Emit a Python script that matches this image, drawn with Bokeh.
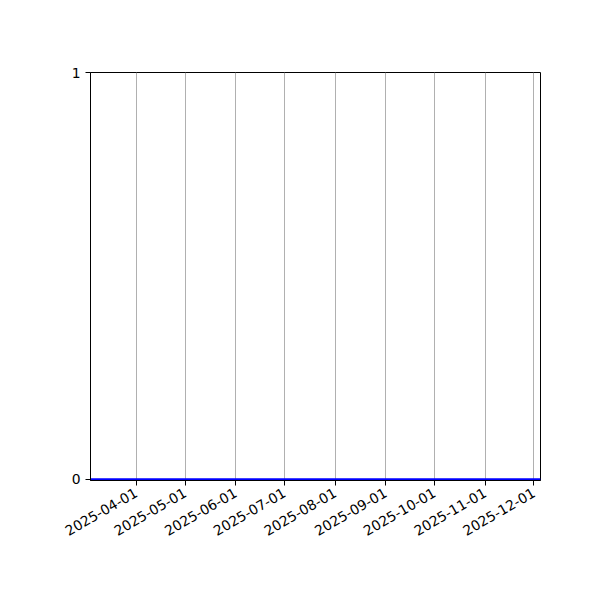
import math
from datetime import datetime
from bokeh.plotting import figure
from bokeh.models import FixedTicker, DatetimeTickFormatter, Range1d
from bokeh.embed import file_html
from bokeh.resources import INLINE

# Data
dates = ["2025-03-04", "2025-12-05"]
values = [0, 0]
tick_labels = ["2025-04-01", "2025-05-01", "2025-06-01", "2025-07-01",
               "2025-08-01", "2025-09-01", "2025-10-01", "2025-11-01", "2025-12-01"]
y_ticks = [0, 1]

def to_dt(s):
    return datetime.strptime(s, "%Y-%m-%d")

def to_ms(s):
    return (to_dt(s) - datetime(1970, 1, 1)).total_seconds() * 1000.0

xs = [to_dt(d) for d in dates]

p = figure(x_axis_type="datetime", output_backend="svg", toolbar_location=None,
           frame_width=450, frame_height=408,
           min_border_left=90, min_border_top=72, min_border_right=52, min_border_bottom=112,
           x_range=Range1d(xs[0], xs[-1]), y_range=Range1d(-0.003, 1))
p.background_fill_color = "white"
p.border_fill_color = "white"
p.outline_line_color = "black"
p.outline_line_width = 1

p.line(xs, values, line_color="#0000ff", line_width=2)

p.xaxis.ticker = FixedTicker(ticks=[to_ms(t) for t in tick_labels])
fmt = "%Y-%m-%d"
p.xaxis.formatter = DatetimeTickFormatter(days=fmt, months=fmt, years=fmt, hours=fmt,
                                          minutes=fmt, seconds=fmt, milliseconds=fmt,
                                          microseconds=fmt, minsec=fmt, hourmin=fmt)
p.xaxis.major_label_orientation = math.pi / 6
p.yaxis.ticker = FixedTicker(ticks=y_ticks)

for ax in (p.xaxis, p.yaxis):
    ax.major_tick_out = 5
    ax.major_tick_in = 0
    ax.minor_tick_line_color = None
    ax.axis_line_color = "black"
    ax.major_tick_line_color = "black"
    ax.major_label_text_font = "DejaVu Sans"
    ax.major_label_text_font_size = "13.9px"
    ax.major_label_text_color = "black"
    ax.major_label_standoff = 5
p.xaxis.major_label_standoff = 6

p.xgrid.grid_line_color = "#b0b0b0"
p.xgrid.grid_line_width = 1
p.ygrid.grid_line_color = None

open("out.html", "w").write(file_html(p, INLINE))
